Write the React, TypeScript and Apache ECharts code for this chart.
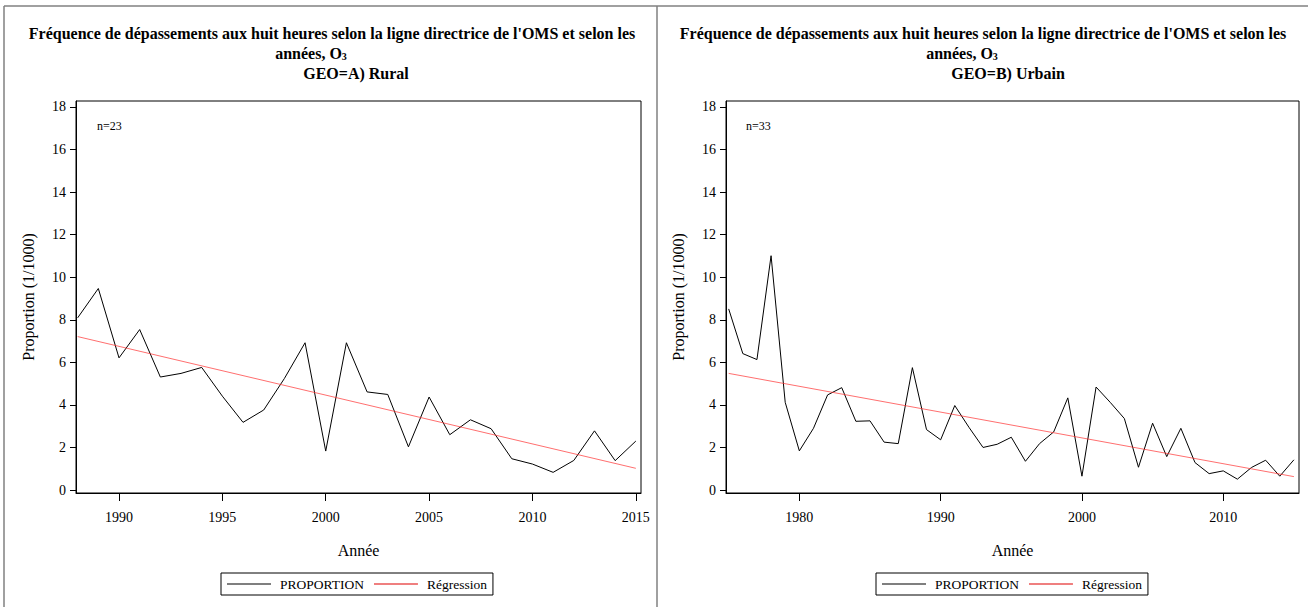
import React, { useEffect, useRef } from "react";
import * as echarts from "echarts";

// ---- Data ----
const ruralYears = [1988, 1989, 1990, 1991, 1992, 1993, 1994, 1995, 1996, 1997, 1998, 1999, 2000, 2001, 2002, 2003, 2004, 2005, 2006, 2007, 2008, 2009, 2010, 2011, 2012, 2013, 2014, 2015];
const ruralValues = [8.09, 9.47, 6.21, 7.54, 5.31, 5.48, 5.76, 4.41, 3.18, 3.76, 5.24, 6.92, 1.83, 6.92, 4.61, 4.49, 2.03, 4.37, 2.6, 3.3, 2.88, 1.47, 1.22, 0.83, 1.39, 2.78, 1.38, 2.3];
const ruralRegYears = [1988, 2015];
const ruralRegValues = [7.21, 1.02];

const urbanYears = [1975, 1976, 1977, 1978, 1979, 1980, 1981, 1982, 1983, 1984, 1985, 1986, 1987, 1988, 1989, 1990, 1991, 1992, 1993, 1994, 1995, 1996, 1997, 1998, 1999, 2000, 2001, 2002, 2003, 2004, 2005, 2006, 2007, 2008, 2009, 2010, 2011, 2012, 2013, 2014, 2015];
const urbanValues = [8.51, 6.41, 6.13, 11.01, 4.12, 1.84, 2.9, 4.47, 4.81, 3.23, 3.25, 2.25, 2.18, 5.75, 2.84, 2.36, 3.97, 2.95, 2.0, 2.15, 2.48, 1.35, 2.18, 2.73, 4.33, 0.65, 4.84, 4.12, 3.36, 1.07, 3.14, 1.57, 2.9, 1.29, 0.77, 0.9, 0.51, 1.06, 1.4, 0.65, 1.42];
const urbanRegYears = [1975, 2015];
const urbanRegValues = [5.48, 0.63];

const yTicks = [0, 2, 4, 6, 8, 10, 12, 14, 16, 18];
const ruralXTicks = [1990, 1995, 2000, 2005, 2010, 2015];
const urbanXTicks = [1980, 1990, 2000, 2010];

const titleLine1 = "Fréquence de dépassements aux huit heures selon la ligne directrice de l'OMS et selon les";
const titleLine2 = "années, O";
const ruralSub = "GEO=A) Rural";
const urbanSub = "GEO=B) Urbain";
const ruralN = "n=23";
const urbanN = "n=33";
const seriesNames = ["PROPORTION", "Régression"];

const FONT = "'Liberation Serif', 'Times New Roman', serif";

const zip = (xs: number[], ys: number[]) => xs.map((x, i) => [x, ys[i]]);

export default function App() {
  const ref = useRef<HTMLDivElement>(null);

  useEffect(() => {
    if (!ref.current) return;
    const chart = echarts.init(ref.current, undefined, { renderer: "svg" });

    const xAxisCfg = (gridIndex: number, min: number, max: number, ticks: number[]) => ({
      type: "value",
      gridIndex,
      min,
      max,
      name: "Année",
      nameLocation: "middle",
      nameGap: 49,
      nameTextStyle: { fontFamily: FONT, fontSize: 16, color: "#000" },
      axisLine: { show: true, onZero: false, lineStyle: { color: "#000", width: 1 } },
      axisTick: { show: true, length: 8, customValues: ticks, lineStyle: { color: "#000" } },
      axisLabel: {
        customValues: ticks,
        margin: 17,
        fontFamily: FONT,
        fontSize: 14,
        color: "#000",
        formatter: (v: number) => String(v),
      },
      splitLine: { show: false },
    });

    const yAxisCfg = (gridIndex: number) => ({
      type: "value",
      gridIndex,
      min: -0.14,
      max: 18.28,
      name: "Proportion (1/1000)",
      nameLocation: "middle",
      nameGap: 40,
      nameTextStyle: { fontFamily: FONT, fontSize: 16, color: "#000" },
      axisLine: { show: true, onZero: false, lineStyle: { color: "#000", width: 1 } },
      axisTick: { show: true, length: 6, customValues: yTicks, lineStyle: { color: "#000" } },
      axisLabel: {
        customValues: yTicks,
        margin: 10,
        fontFamily: FONT,
        fontSize: 14,
        color: "#000",
        formatter: (v: number) => String(v),
      },
      splitLine: { show: false },
    });

    const legendCfg = (left: number) => ({
      data: seriesNames,
      left,
      top: 573,
      orient: "horizontal",
      icon: "rect",
      itemWidth: 44,
      itemHeight: 1,
      itemGap: 10,
      padding: [4, 6],
      borderColor: "#000",
      borderWidth: 1,
      backgroundColor: "#fff",
      selectedMode: false,
      textStyle: { fontFamily: FONT, fontSize: 13.5, color: "#000", padding: [0, 0, 0, 4] },
    });

    const titleText = (x: number, y: number, text: string) => ({
      type: "text",
      x,
      y,
      style: {
        text,
        fontFamily: FONT,
        fontSize: 16,
        fontWeight: "bold",
        fill: "#000",
        align: "center",
        verticalAlign: "middle",
      },
    });

    const mkTitle2 = (cx: number) => ({
      type: "text",
      x: cx,
      y: 53,
      style: {
        text: titleLine2 + "{s|3}",
        rich: { s: { fontSize: 10, fontWeight: "bold", fontFamily: FONT, verticalAlign: "bottom", padding: [5, 0, 0, 0] } },
        fontFamily: FONT,
        fontSize: 16,
        fontWeight: "bold",
        fill: "#000",
        align: "center",
        verticalAlign: "middle",
      },
    });

    const option: any = {
      animation: false,
      backgroundColor: "#fff",
      grid: [
        { left: 76, top: 101, width: 565, height: 392, show: true, borderColor: "#000", borderWidth: 1, containLabel: false },
        { left: 726, top: 101, width: 573, height: 392, show: true, borderColor: "#000", borderWidth: 1, containLabel: false },
      ],
      xAxis: [xAxisCfg(0, 1987.92, 2015.25, ruralXTicks), xAxisCfg(1, 1974.81, 2015.36, urbanXTicks)],
      yAxis: [yAxisCfg(0), yAxisCfg(1)],
      legend: [legendCfg(221), legendCfg(876)],
      series: [
        {
          name: seriesNames[0],
          type: "line",
          xAxisIndex: 0,
          yAxisIndex: 0,
          data: zip(ruralYears, ruralValues),
          showSymbol: false,
          symbol: "none",
          itemStyle: { color: "#000" },
          lineStyle: { color: "#000", width: 1 },
        },
        {
          name: seriesNames[1],
          type: "line",
          xAxisIndex: 0,
          yAxisIndex: 0,
          data: zip(ruralRegYears, ruralRegValues),
          showSymbol: false,
          symbol: "none",
          itemStyle: { color: "#e00000" },
          lineStyle: { color: "#ff3030", width: 0.7 },
        },
        {
          name: seriesNames[0],
          type: "line",
          xAxisIndex: 1,
          yAxisIndex: 1,
          data: zip(urbanYears, urbanValues),
          showSymbol: false,
          symbol: "none",
          itemStyle: { color: "#000" },
          lineStyle: { color: "#000", width: 1 },
        },
        {
          name: seriesNames[1],
          type: "line",
          xAxisIndex: 1,
          yAxisIndex: 1,
          data: zip(urbanRegYears, urbanRegValues),
          showSymbol: false,
          symbol: "none",
          itemStyle: { color: "#e00000" },
          lineStyle: { color: "#ff3030", width: 0.7 },
        },
      ],
      graphic: [
        { type: "line", shape: { x1: 4, y1: 6, x2: 1308, y2: 6 }, style: { stroke: "#808080", lineWidth: 1.5 } },
        { type: "line", shape: { x1: 4, y1: 6, x2: 4, y2: 607 }, style: { stroke: "#808080", lineWidth: 1.5 } },
        { type: "line", shape: { x1: 657, y1: 6, x2: 657, y2: 607 }, style: { stroke: "#808080", lineWidth: 1.5 } },
        titleText(332, 33, titleLine1),
        titleText(983, 33, titleLine1),
        mkTitle2(311),
        mkTitle2(962),
        titleText(356, 73, ruralSub),
        titleText(1008, 73, urbanSub),
        { type: "text", x: 97, y: 126, style: { text: ruralN, fontFamily: FONT, fontSize: 12, fill: "#000", verticalAlign: "middle" } },
        { type: "text", x: 746, y: 126, style: { text: urbanN, fontFamily: FONT, fontSize: 12, fill: "#000", verticalAlign: "middle" } },
      ],
    };

    chart.setOption(option);
    return () => chart.dispose();
  }, []);

  return <div ref={ref} style={{ position: "absolute", left: 0, top: 0, width: 1308, height: 607 }} />;
}
